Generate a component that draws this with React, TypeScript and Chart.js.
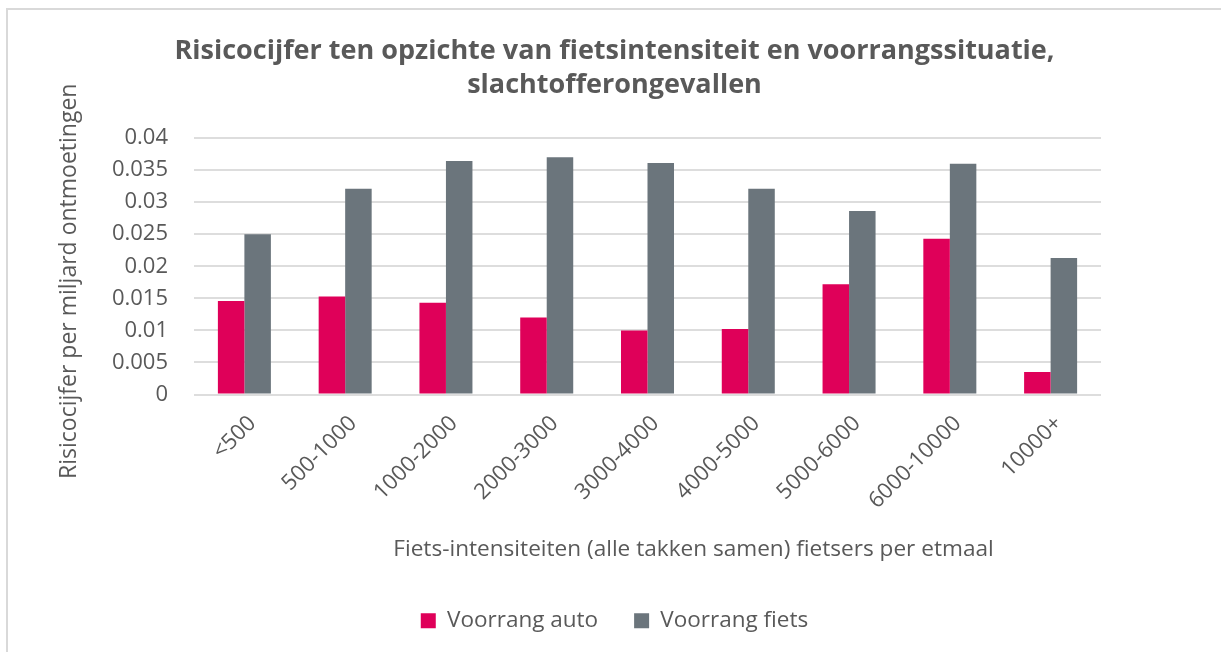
import React, { useEffect, useRef } from "react";
import { Chart, registerables } from "chart.js";

Chart.register(...registerables);

const categories = ["<500", "500-1000", "1000-2000", "2000-3000", "3000-4000", "4000-5000", "5000-6000", "6000-10000", "10000+"];
const voorrangAuto = [0.0146, 0.0153, 0.0143, 0.012, 0.01, 0.0102, 0.0172, 0.0243, 0.0035];
const voorrangFiets = [0.025, 0.0321, 0.0364, 0.037, 0.0361, 0.0321, 0.0286, 0.036, 0.0213];
const yTickLabels = ["0", "0.005", "0.01", "0.015", "0.02", "0.025", "0.03", "0.035", "0.04"];
const seriesNames = ["Voorrang auto", "Voorrang fiets"];
const titleLines = ["Risicocijfer ten opzichte van fietsintensiteit en voorrangssituatie,", "slachtofferongevallen"];
const xTitle = "Fiets-intensiteiten (alle takken samen) fietsers per etmaal";
const yTitle = "Risicocijfer per miljard ontmoetingen";

const TEXT = "#595959";
const FONT = '"Open Sans", "Noto Sans", sans-serif';

const axisTitlePlugin = {
  id: "axisTitlesCustom",
  afterDraw(chart: any) {
    const { ctx, chartArea } = chart;
    ctx.save();
    ctx.fillStyle = TEXT;
    ctx.textAlign = "center";
    ctx.textBaseline = "middle";
    ctx.font = `22.6px ${FONT}`;
    ctx.fillText(xTitle, (chartArea.left + chartArea.right) / 2 + 46, chartArea.bottom + 155);
    ctx.font = `23px ${FONT}`;
    ctx.translate(chartArea.left - 125, (chartArea.top + chartArea.bottom) / 2 + 15);
    ctx.rotate(-Math.PI / 2);
    ctx.fillText(yTitle, 0, 0);
    ctx.restore();
  },
};

export default function App() {
  const ref = useRef<HTMLCanvasElement>(null);
  useEffect(() => {
    if (!ref.current) return;
    const chart = new Chart(ref.current, {
      type: "bar",
      data: {
        labels: categories,
        datasets: [
          { label: seriesNames[0], data: voorrangAuto, backgroundColor: "#DF0059", yAxisID: "y" },
          { label: seriesNames[1], data: voorrangFiets, backgroundColor: "#6B757C", yAxisID: "y" },
        ],
      },
      options: {
        responsive: false,
        animation: false,
        layout: { padding: { left: 0, right: 0, top: 0, bottom: 10 } },
        datasets: { bar: { categoryPercentage: 0.526, barPercentage: 1.0 } },
        plugins: {
          title: {
            display: true,
            text: titleLines,
            color: TEXT,
            font: { family: FONT, size: 27, weight: "bold", lineHeight: "34px" },
            padding: { top: 24, bottom: 36 },
          },
          legend: {
            display: true,
            position: "bottom",
            labels: {
              color: TEXT,
              font: { family: FONT, size: 22.5 },
              boxWidth: 15,
              boxHeight: 15,
              padding: 36,
            },
          },
          tooltip: { enabled: false },
        },
        scales: {
          x: {
            grid: { display: false },
            border: { display: false },
            ticks: {
              color: TEXT,
              font: { family: FONT, size: 22 },
              autoSkip: false,
              minRotation: 45,
              maxRotation: 45,
              padding: 8,
              labelOffset: 8,
            },
            afterFit(s: any) {
              s.height = 179;
            },
          },
          y: {
            min: 0,
            max: 0.04,
            position: "left",
            grid: { color: "#DDDDDD", lineWidth: 2, drawTicks: false },
            border: { display: false },
            ticks: {
              stepSize: 0.005,
              color: TEXT,
              font: { family: FONT, size: 22 },
              padding: 26,
              callback: (_v: any, i: number) => yTickLabels[i],
            },
            afterFit(s: any) {
              s.width = 186;
            },
          },
          yRight: {
            type: "linear",
            position: "right",
            display: true,
            grid: { display: false },
            border: { display: false },
            ticks: { display: false },
            afterFit(s: any) {
              s.width = 120;
            },
          },
        },
      } as any,
      plugins: [axisTitlePlugin],
    });
    return () => chart.destroy();
  }, []);

  return (
    <div
      style={{
        position: "absolute",
        left: 6,
        top: 8,
        width: 1215,
        height: 644,
        boxSizing: "border-box",
        borderLeft: "2px solid #D9D9D9",
        borderTop: "2px solid #D9D9D9",
        background: "#fff",
        overflow: "hidden",
      }}
    >
      <canvas ref={ref} width={1213} height={642} style={{ display: "block" }} />
    </div>
  );
}
